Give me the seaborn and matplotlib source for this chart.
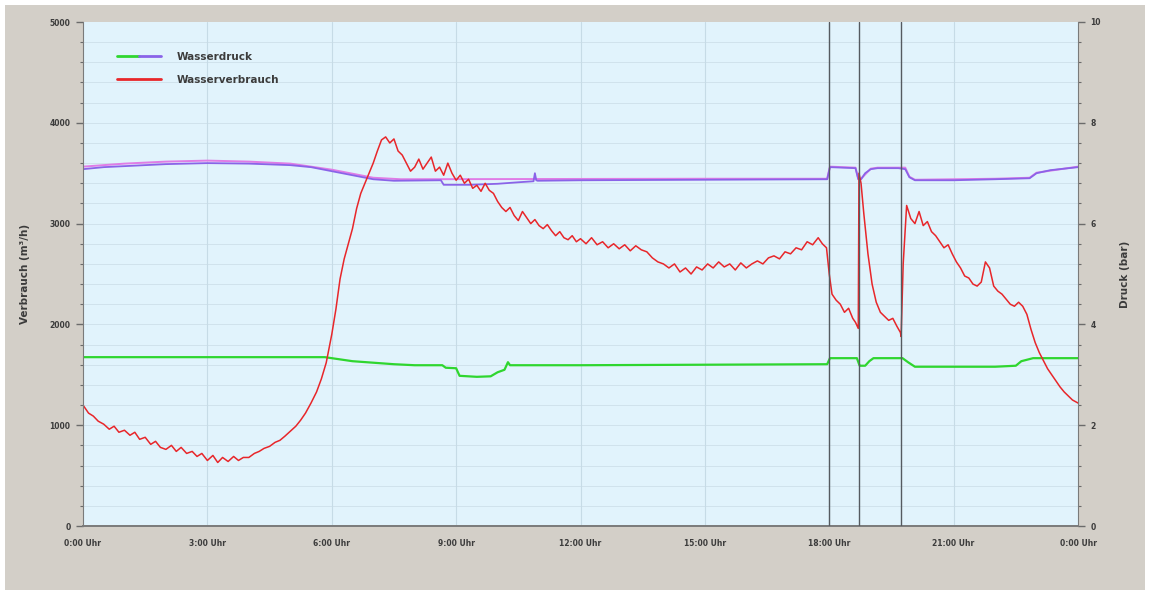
import numpy as np
import pandas as pd
import matplotlib
matplotlib.use("Agg")
import matplotlib.pyplot as plt
import seaborn as sns
from matplotlib.patches import Rectangle
from matplotlib.legend_handler import HandlerTuple
from matplotlib.lines import Line2D

# Wasserverbrauch (m3/h), time in minutes after midnight
verbrauch_min = [
    0, 8, 15, 22, 30, 38, 45, 52, 60, 68, 75, 82, 90, 98, 105, 112, 120, 128, 135, 142,
    150, 158, 165, 172, 180, 188, 195, 202, 210, 218, 225, 232, 240, 248, 255, 262, 270, 278, 285, 292,
    300, 308, 315, 322, 330, 338, 345, 352, 360, 366, 372, 378, 384, 390, 396, 402, 408, 414, 420, 426,
    432, 438, 444, 450, 456, 462, 468, 474, 480, 486, 492, 498, 504, 510, 516, 522, 528, 534, 540, 546,
    552, 558, 564, 570, 576, 582, 588, 594, 600, 606, 612, 618, 624, 630, 636, 642, 648, 654, 660, 666,
    672, 678, 684, 690, 696, 702, 708, 714, 720, 728, 736, 744, 752, 760, 768, 776, 784, 792, 800, 808,
    816, 824, 832, 840, 848, 856, 864, 872, 880, 888, 896, 904, 912, 920, 928, 936, 944, 952, 960, 968,
    976, 984, 992, 1000, 1008, 1016, 1024, 1032, 1040, 1048, 1056, 1064, 1070, 1076, 1080, 1084, 1090, 1096, 1102, 1108,
    1114, 1118, 1122, 1123, 1126, 1130, 1136, 1142, 1148, 1154, 1160, 1166, 1172, 1178, 1183, 1184, 1187, 1192, 1198, 1204,
    1210, 1216, 1222, 1228, 1234, 1240, 1246, 1252, 1258, 1264, 1270, 1276, 1282, 1288, 1294, 1300, 1306, 1312, 1318, 1324,
    1330, 1336, 1342, 1348, 1354, 1360, 1366, 1372, 1378, 1384, 1390, 1396, 1402, 1408, 1414, 1420, 1426, 1432, 1440,
]
verbrauch = [
    1200, 1120, 1090, 1040, 1010, 960, 990, 930, 950, 900, 930, 860, 880, 810, 840, 780, 760, 800, 740, 780,
    720, 740, 690, 720, 650, 700, 630, 680, 640, 690, 650, 680, 680, 720, 740, 770, 790, 830, 850, 890,
    940, 990, 1050, 1120, 1220, 1330, 1460, 1620, 1900, 2150, 2450, 2650, 2800, 2950, 3150, 3300, 3400, 3500, 3600, 3720,
    3830, 3860, 3800, 3840, 3720, 3680, 3600, 3520, 3560, 3640, 3540, 3600, 3660, 3520, 3560, 3480, 3600, 3500, 3430, 3480,
    3400, 3440, 3350, 3380, 3320, 3400, 3330, 3300, 3220, 3160, 3120, 3160, 3080, 3030, 3120, 3060, 3000, 3040, 2980, 2950,
    2990, 2930, 2880, 2920, 2860, 2840, 2880, 2820, 2850, 2800, 2860, 2790, 2820, 2760, 2800, 2750, 2790, 2730, 2780, 2740,
    2720, 2660, 2620, 2600, 2560, 2600, 2520, 2560, 2500, 2570, 2540, 2600, 2560, 2620, 2570, 2600, 2540, 2610, 2560, 2600,
    2630, 2600, 2660, 2680, 2650, 2720, 2700, 2760, 2740, 2820, 2790, 2860, 2800, 2760, 2500, 2300, 2240, 2200, 2120, 2160,
    2060, 2020, 1960, 3500, 3400, 3100, 2700, 2400, 2220, 2120, 2080, 2040, 2060, 1980, 1920, 1880, 2600, 3180, 3050, 3000,
    3120, 2980, 3020, 2920, 2880, 2820, 2760, 2790, 2700, 2620, 2560, 2480, 2460, 2400, 2380, 2420, 2620, 2560, 2380, 2330,
    2300, 2250, 2200, 2180, 2220, 2180, 2100, 1950, 1820, 1720, 1640, 1560, 1500, 1440, 1380, 1330, 1290, 1250, 1220,
]

# Wasserdruck (bar): two sensors in the upper zone, one in the lower zone
druck_lila_min = [0, 30, 60, 120, 180, 240, 300, 330, 360, 390, 420, 450, 518, 522, 560, 600, 630, 652, 654, 656, 658,
                  720, 900, 1077, 1081, 1118, 1122, 1126, 1132, 1140, 1150, 1180, 1190, 1196, 1204, 1260, 1320, 1370, 1380,
                  1400, 1440]
druck_lila = [7.08, 7.12, 7.14, 7.18, 7.2, 7.19, 7.16, 7.12, 7.04, 6.96, 6.88, 6.85, 6.86, 6.77, 6.77, 6.79, 6.82, 6.84, 7.0, 6.86, 6.85,
              6.86, 6.87, 6.88, 7.12, 7.1, 6.88, 6.88, 7.0, 7.08, 7.1, 7.1, 7.08, 6.92, 6.86, 6.86, 6.88, 6.9, 7.0,
              7.06, 7.12]

druck_rosa_min = [0, 60, 120, 180, 240, 300, 360, 420, 460, 900, 1077, 1081, 1118, 1122, 1126, 1140, 1150, 1190, 1196,
                  1204, 1320, 1370, 1380, 1440]
druck_rosa = [7.13, 7.19, 7.23, 7.25, 7.23, 7.19, 7.07, 6.91, 6.88, 6.89, 6.89, 7.13, 7.11, 6.89, 6.89, 7.09, 7.11, 7.11, 6.93,
              6.87, 6.89, 6.91, 7.01, 7.13]

druck_gruen_min = [0, 350, 365, 390, 420, 450, 480, 520, 525, 540, 545, 570, 590, 600, 610, 615, 618, 720, 900, 1077,
                   1081, 1120, 1124, 1132, 1138, 1144, 1186, 1194, 1204, 1320, 1350, 1358, 1375, 1440]
druck_gruen = [3.35, 3.35, 3.32, 3.27, 3.24, 3.21, 3.19, 3.19, 3.14, 3.13, 2.98, 2.96, 2.97, 3.05, 3.1, 3.25, 3.19, 3.19, 3.2, 3.21,
               3.33, 3.33, 3.18, 3.18, 3.27, 3.33, 3.33, 3.25, 3.16, 3.16, 3.18, 3.27, 3.33, 3.33]

# event markers (hours)
markierungen = [18.0, 18.72, 19.73]

tick_hours = [0, 3, 6, 9, 12, 15, 18, 21, 24]
tick_labels = ["0:00 Uhr", "3:00 Uhr", "6:00 Uhr", "9:00 Uhr", "12:00 Uhr",
               "15:00 Uhr", "18:00 Uhr", "21:00 Uhr", "0:00 Uhr"]

BEIGE = "#d3cfc8"
PLOT_BG = "#e1f3fc"
GRID = "#d0e2ec"
TXT = "#3c3c3c"


def to_df(minutes, values):
    return pd.DataFrame({"h": np.array(minutes) / 60.0, "v": values})


sns.set_style("white")
plt.rcParams["font.family"] = ["DejaVu Sans"]

fig = plt.figure(figsize=(11.51, 5.92), dpi=100, facecolor="white")
fig.patches.append(Rectangle((5 / 1151, 2 / 592), 1140 / 1151, 585 / 592,
                             transform=fig.transFigure, facecolor=BEIGE, edgecolor="none", zorder=-10))

ax = fig.add_axes([83 / 1151, 1 - 526 / 592, 995 / 1151, 504 / 592])
ax2 = ax.twinx()

# background sits on the right axis, consumption line drawn on top
ax2.patch.set_visible(True)
ax2.set_facecolor(PLOT_BG)
ax.set_zorder(ax2.get_zorder() + 1)
ax.patch.set_visible(False)

# grid on the pressure axes (under everything)
for y in np.arange(0.4, 10, 0.4):
    ax2.axhline(y, color=GRID, lw=0.7, zorder=0)
for h in tick_hours[1:-1]:
    ax2.axvline(h, color="#c6dbe6", lw=0.8, zorder=0)

sns.lineplot(data=to_df(druck_rosa_min, druck_rosa), x="h", y="v", ax=ax2,
             color="#e07ce6", lw=1.4, sort=False, estimator=None)
sns.lineplot(data=to_df(druck_lila_min, druck_lila), x="h", y="v", ax=ax2,
             color="#8a63e8", lw=1.3, sort=False, estimator=None)
sns.lineplot(data=to_df(druck_gruen_min, druck_gruen), x="h", y="v", ax=ax2,
             color="#2fd62f", lw=1.6, sort=False, estimator=None)

sns.lineplot(data=to_df(verbrauch_min, verbrauch), x="h", y="v", ax=ax,
             color="#e8262a", lw=1.1, sort=False, estimator=None)

for h in markierungen:
    ax.axvline(h, color="#555a60", lw=1.0, zorder=5)

ax.set_xlim(0, 24)
ax.set_ylim(0, 5000)
ax2.set_ylim(0, 10)

ax.set_xticks(tick_hours)
ax.set_xticklabels(tick_labels)
ax.set_xticks(np.arange(0, 24.01, 0.5), minor=True)
ax.set_yticks([0, 1000, 2000, 3000, 4000, 5000])
ax.set_yticks(np.arange(0, 5001, 200), minor=True)
ax2.set_yticks([0, 2, 4, 6, 8, 10])
ax2.set_yticks(np.arange(0, 10.01, 0.4), minor=True)

for a in (ax, ax2):
    a.tick_params(which="major", length=5, width=1.0, color="#6b6b6b", labelsize=5.5,
                  labelcolor=TXT, pad=4)
    a.tick_params(which="minor", length=2.5, width=0.8, color="#6b6b6b")
    for s in a.spines.values():
        s.set_visible(False)
for lab in ax.get_xticklabels() + ax.get_yticklabels() + ax2.get_yticklabels():
    lab.set_fontweight("bold")

ax.spines["left"].set_visible(True)
ax.spines["left"].set_color("#7a7a7a")
ax.spines["bottom"].set_visible(True)
ax.spines["bottom"].set_color("#7a7a7a")
ax.spines["bottom"].set_linewidth(1.4)
ax2.spines["right"].set_visible(True)
ax2.spines["right"].set_color("#7a7a7a")

ax.set_xlabel("")
ax.set_ylabel("Verbrauch (m³/h)", fontsize=7.5, fontweight="bold", color=TXT, labelpad=14)
ax2.set_ylabel("Druck (bar)", fontsize=7.5, fontweight="bold", color=TXT, labelpad=14)

h_druck = (Line2D([], [], color="#2fd62f", lw=2), Line2D([], [], color="#8a63e8", lw=2))
h_verb = Line2D([], [], color="#e8262a", lw=2)
ax.legend([h_druck, h_verb], ["Wasserdruck", "Wasserverbrauch"],
          handler_map={tuple: HandlerTuple(ndivide=None, pad=0)},
          loc="upper left", bbox_to_anchor=(0.025, 0.96), frameon=False,
          prop={"size": 7.5, "weight": "bold"}, labelcolor=TXT,
          handlelength=4.2, handletextpad=1.5, labelspacing=1.3)

fig.savefig("out.png", dpi=100, facecolor=fig.get_facecolor())
